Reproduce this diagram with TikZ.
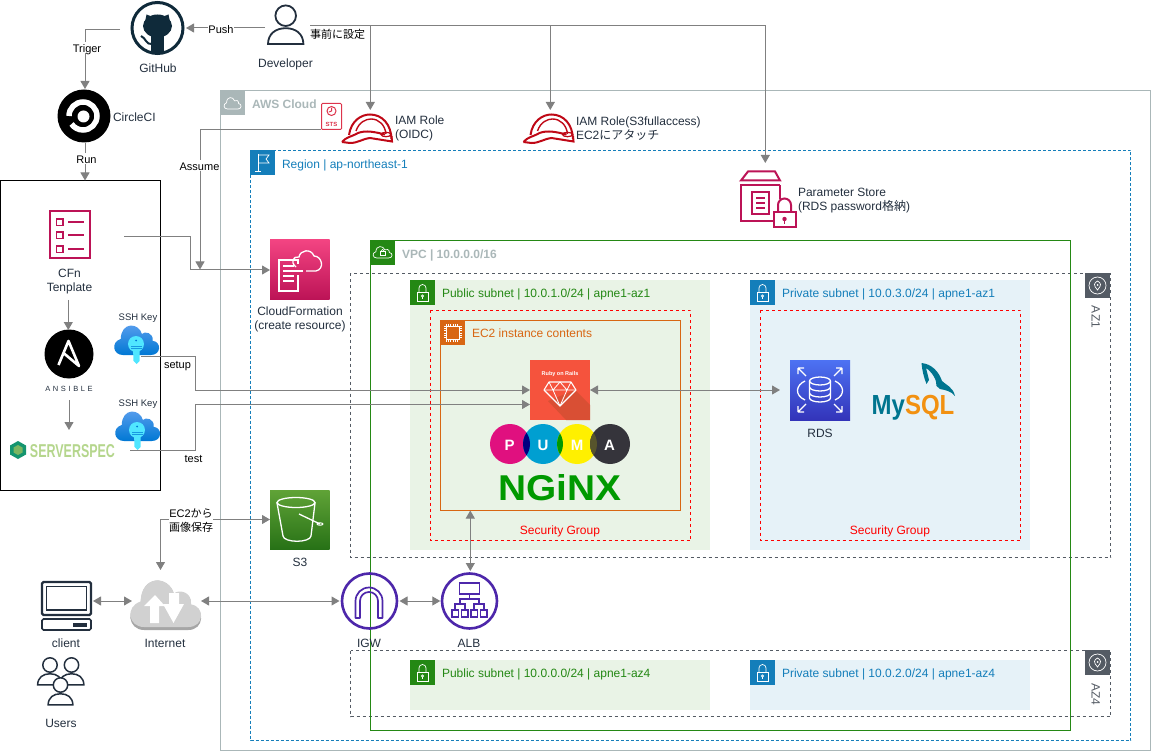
\documentclass[tikz,border=0pt]{standalone}
\usepackage{fontspec}
\usepackage{graphicx}
\setmainfont{Liberation Sans}
\newfontfamily\cjkfont{Noto Sans CJK JP}
\usetikzlibrary{arrows.meta}
\definecolor{awstext}{HTML}{232F3E}
\definecolor{cloudgray}{HTML}{AAB7B8}
\definecolor{regionblue}{HTML}{147EBA}
\definecolor{vpcgreen}{HTML}{248814}
\definecolor{azgray}{HTML}{545B64}
\definecolor{ecorange}{HTML}{D86613}
\definecolor{pubfill}{HTML}{E9F3E6}
\definecolor{privfill}{HTML}{E6F2F8}
\definecolor{stackpink}{HTML}{BC1356}
\definecolor{stacktop}{HTML}{F34482}
\definecolor{iamred}{HTML}{BF0816}
\definecolor{stsred}{HTML}{DD344C}
\definecolor{netpurple}{HTML}{4D27AA}
\definecolor{linegray}{HTML}{808080}
\definecolor{hubnavy}{HTML}{0F2A3A}
\definecolor{keytop}{HTML}{5EA0EF}
\definecolor{keybottom}{HTML}{0078D4}
\definecolor{keycyan}{HTML}{50E6FF}
\definecolor{bucktop}{HTML}{60A337}
\definecolor{buckbottom}{HTML}{277116}
\definecolor{dbtop}{HTML}{4D72F3}
\definecolor{dbbottom}{HTML}{3334B9}
\definecolor{mysqlteal}{HTML}{00758F}
\definecolor{mysqlorange}{HTML}{F29111}
\definecolor{railsred}{HTML}{F5533D}
\definecolor{railsshade}{HTML}{D94F34}
\definecolor{pumapink}{HTML}{E0107F}
\definecolor{pumablue}{HTML}{009FD1}
\definecolor{pumayellow}{HTML}{FFF000}
\definecolor{pumadark}{HTML}{35343B}
\definecolor{nginxgreen}{HTML}{009900}
\definecolor{specgreen}{HTML}{B5D68D}
\definecolor{spechex}{HTML}{14956F}
\definecolor{specinner}{HTML}{7BB661}
\newcommand{\jp}[1]{{\cjkfont #1}}
\def\cloudpath{(0.2,0) -- (0.82,0) .. controls (1.05,0) and (1.06,0.42) .. (0.86,0.46) .. controls (0.88,0.72) and (0.68,0.78) .. (0.62,0.68) .. controls (0.55,1.05) and (0.16,1.08) .. (0.15,0.52) .. controls (-0.07,0.42) and (-0.03,0) .. (0.2,0) -- cycle}
\def\lockglyph{\draw (7,-12) rectangle (18,-21);
\draw (9,-12) -- (9,-8) arc (180:0:3.5) -- (16,-12);
\draw (12.5,-16) circle (1.2);
\draw (12.5,-17.2) -- (12.5,-19);}
\newcommand{\badge}[4]{\fill [#3] (#1,#2) rectangle ++(25,-25);
\begin{scope}[shift={(#1,#2)},white,line width=0.7pt] #4 \end{scope}}
\newcommand{\helmet}[1]{\begin{scope}[shift={(#1,0)},iamred,line width=2pt]
\draw (349,-135) .. controls (351,-121) and (361,-114.5) .. (370,-114.5) .. controls (382,-114.5) and (391,-124) .. (391.5,-139);
\draw [line width=1.4pt] (356,-131) .. controls (359,-122) and (366,-119) .. (371,-119) .. controls (379,-119) and (385,-125) .. (386,-134);
\draw (342,-142) .. controls (346,-137) and (351,-137) .. (358,-133) .. controls (366,-130) and (375,-132) .. (385,-134.5);
\draw (342,-142) -- (350,-143) .. controls (358,-143) and (362,-139) .. (370,-138) -- (392,-141.5) -- (391.5,-136);
\draw [line width=1.2pt] (386,-134.5) ellipse (5 and 2.2);
\end{scope}}
\newcommand{\sshkey}[2]{\begin{scope}[shift={(#1,#2)}]
\shade [top color=keytop,bottom color=keybottom,xscale=45,yscale=31] \cloudpath;
\fill [keycyan] (22,11) circle (8);
\fill [keycyan] (19,7) -- (19.5,-6) -- (22.5,-9) -- (25.5,-6) -- (25.5,7) -- cycle;
\fill [keybottom] (22,14.5) circle (1);
\draw [keybottom!70!keycyan,line width=0.6pt] (17,8.5) -- (28,8.5) (17,6.5) -- (28,6.5);
\end{scope}}
\newcommand{\person}[4]{\begin{scope}[shift={(#1,#2)},scale=#3]
\draw [awstext,fill=white,line width=#4] (-17.7,-28.3) -- (17.7,-28.3) .. controls (17.5,-18) and (10,-12.5) .. (0,-12.5) .. controls (-10,-12.5) and (-17.5,-18) .. (-17.7,-28.3) -- cycle;
\draw [awstext,fill=white,line width=#4] (0,0) circle (10.3);
\end{scope}}
\begin{document}
\begin{tikzpicture}[x=1pt,y=1pt]
\tikzstyle{every node}+=[inner sep=0pt,outer sep=0pt,font=\fontsize{12}{14}\selectfont,text=awstext]
\tikzstyle{lbl}=[text height=9.8pt,text depth=1.2pt]
\tikzstyle{multi}=[align=center]
\tikzstyle{multileft}=[align=left,anchor=west]
\tikzstyle{edgelbl}=[lbl,fill=white,text=black,font=\fontsize{11}{13}\selectfont]
\tikzstyle{conn}=[linegray,line width=1pt,-{Triangle[length=8pt,width=9pt]}]
\tikzstyle{conntwo}=[linegray,line width=1pt,{Triangle[length=8pt,width=9pt]}-{Triangle[length=8pt,width=9pt]}]
\tikzstyle{azbox}=[azgray,line width=0.8pt,dash pattern=on 3pt off 3pt]
\tikzstyle{sgbox}=[red,line width=0.8pt,dash pattern=on 3pt off 3pt]
\tikzstyle{pumaletter}=[text=white,font=\fontsize{15}{16}\selectfont\bfseries]
\useasboundingbox (0,0) rectangle (1151,-751);
\draw [cloudgray,line width=1pt] (220.5,-90.5) rectangle (1150.5,-750.5);
\draw [regionblue,line width=1pt,dash pattern=on 3pt off 2pt] (250.5,-150.5) rectangle (1130.5,-740.5);
\fill [pubfill] (410,-280) rectangle (710,-550);
\fill [privfill] (750,-280) rectangle (1030,-550);
\fill [pubfill] (410,-660) rectangle (710,-710);
\fill [privfill] (750,-660) rectangle (1030,-710);
\draw [azbox] (350.5,-273.5) rectangle (1110.5,-557.5);
\draw [azbox] (350.5,-650.5) rectangle (1110.5,-716.5);
\draw [vpcgreen,line width=1pt] (370.5,-240.5) rectangle (1070.5,-730.5);
\draw [sgbox] (430.5,-310.5) rectangle (690.5,-540.5);
\draw [sgbox] (760.5,-310.5) rectangle (1020.5,-540.5);
\draw (560.5,-415.5) node [draw=ecorange,line width=1pt,minimum width=240pt,minimum height=190pt] (ecbox) {};
\draw (80.5,-335.5) node [draw=black,line width=1pt,minimum width=160pt,minimum height=310pt] (toolbox) {};
\badge{220}{-90}{cloudgray}{\draw [shift={(4,-19)},xscale=17,yscale=12] \cloudpath;}
\badge{250}{-150}{regionblue}{\draw (8,-4) -- (8,-21) (5,-21) -- (11,-21);
\draw (8,-5) -- (19,-5) -- (16,-9) -- (19,-13) -- (8,-13);}
\badge{370}{-240}{vpcgreen}{\draw [shift={(3,-18)},xscale=19,yscale=12] \cloudpath;
\draw (10,-11) rectangle (15,-15);
\draw (11,-11) arc (180:0:1.5);}
\badge{410}{-280}{vpcgreen}{\lockglyph}
\badge{750}{-280}{regionblue}{\lockglyph}
\badge{410}{-660}{vpcgreen}{\lockglyph}
\badge{750}{-660}{regionblue}{\lockglyph}
\badge{440}{-320}{ecorange}{\draw (6,-6) rectangle (19,-19);
\draw [line width=2pt,dash pattern=on 1pt off 1.2pt] (6,-4.5) -- (19,-4.5) (6,-20.5) -- (19,-20.5) (4.5,-6) -- (4.5,-19) (20.5,-6) -- (20.5,-19);}
\badge{1085}{-273}{azgray}{\draw (12.5,-12.5) circle (8.5);
\draw (12.5,-8) .. controls (16,-10) and (17,-12) .. (12.5,-17) .. controls (8,-12) and (9,-10) .. (12.5,-8);
\fill (12.5,-12) circle (1);}
\badge{1085}{-650}{azgray}{\draw (12.5,-12.5) circle (8.5);
\draw (12.5,-8) .. controls (16,-10) and (17,-12) .. (12.5,-17) .. controls (8,-12) and (9,-10) .. (12.5,-8);
\fill (12.5,-12) circle (1);}
\draw (252,-104) node [lbl,anchor=west,text=cloudgray,font=\fontsize{12}{14}\selectfont\bfseries] (cloudlbl) {AWS Cloud};
\draw (282,-164) node [lbl,anchor=west,text=regionblue] (regionlbl) {Region | ap-northeast-1};
\draw (402,-254) node [lbl,anchor=west,text=cloudgray,font=\fontsize{12}{14}\selectfont\bfseries] (vpclbl) {VPC | 10.0.0.0/16};
\draw (442,-293.5) node [lbl,anchor=west,text=vpcgreen] (puboneloc) {Public subnet | 10.0.1.0/24 | apne1-az1};
\draw (782,-293.5) node [lbl,anchor=west,text=regionblue] (privoneloc) {Private subnet | 10.0.3.0/24 | apne1-az1};
\draw (442,-673.5) node [lbl,anchor=west,text=vpcgreen] (pubfourloc) {Public subnet | 10.0.0.0/24 | apne1-az4};
\draw (782,-673.5) node [lbl,anchor=west,text=regionblue] (privfourloc) {Private subnet | 10.0.2.0/24 | apne1-az4};
\draw (472,-333.5) node [lbl,anchor=west,text=ecorange] (eclbl) {EC2 instance contents};
\draw (560,-530.5) node [lbl,text=red] (sgone) {Security Group};
\draw (890,-530.5) node [lbl,text=red] (sgtwo) {Security Group};
\draw (1096,-317) node [lbl,rotate=270,text=azgray] (azone) {AZ1};
\draw (1096,-694) node [lbl,rotate=270,text=azgray] (azfour) {AZ4};
\draw [hubnavy,line width=3pt] (157.5,-28) circle (25.5);
\fill [hubnavy] (157.5,-26) ellipse (14.5 and 11.5);
\fill [hubnavy] (145,-22) -- (146.5,-14.5) -- (153,-17) -- cycle;
\fill [hubnavy] (170,-22) -- (168.5,-14.5) -- (162,-17) -- cycle;
\fill [hubnavy] (151,-32) rectangle (164,-53);
\draw [hubnavy,line width=2pt] (141,-36) .. controls (146,-38) and (146,-45) .. (152,-44);
\person{285.7}{-15.7}{1}{1.8pt}
\fill [black] (84,-116) circle (26.5);
\draw [white,line width=5.5pt] (69,-116) arc (180:-145:14);
\fill [white] (83.5,-116.5) circle (6);
\draw [stackpink,line width=2pt] (49.5,-211.5) rectangle (89.5,-258.5);
\draw [stackpink,line width=1.5pt] (56.5,-219) rectangle (63,-225.5) (56.5,-232) rectangle (63,-238.5) (56.5,-246) rectangle (63,-252.5);
\draw [stackpink,line width=1.5pt] (68,-222) -- (84,-222) (68,-235) -- (84,-235) (68,-249) -- (84,-249);
\fill [black] (69,-354) circle (24.5);
\draw [white,line width=2.6pt,line join=round] (58.5,-365) -- (68.5,-341) -- (79,-366) -- (63.5,-353);
\draw (69,-387) node [lbl,text=awstext,font=\fontsize{7.5}{9}\selectfont\addfontfeature{LetterSpace=35}] (ansiblelbl) {ANSIBLE};
\fill [spechex] (18,-441) -- (26,-445.5) -- (26,-454.5) -- (18,-459) -- (10,-454.5) -- (10,-445.5) -- cycle;
\fill [specinner] (18,-445) -- (22.5,-447.5) -- (22.5,-452.5) -- (18,-455) -- (13.5,-452.5) -- (13.5,-447.5) -- cycle;
\draw (72.5,-451) node [text=specgreen] (speclbl) {\resizebox{85pt}{13pt}{\bfseries SERVERSPEC}};
\sshkey{114}{-355}
\sshkey{115}{-441}
\draw (138,-316) node [lbl,font=\fontsize{9.5}{11}\selectfont] (keyonelbl) {SSH Key};
\draw (138,-402) node [lbl,font=\fontsize{9.5}{11}\selectfont] (keytwolbl) {SSH Key};
\draw [stsred,fill=white,line width=1pt,rounded corners=1pt] (321.5,-103.5) rectangle (341.5,-129.5);
\draw [stsred,line width=1pt] (331.5,-111) circle (4.5) (331.5,-108) -- (331.5,-111) -- (329,-112);
\draw (331.5,-124) node [text=stsred,font=\fontsize{6}{7}\selectfont\bfseries] (stslbl) {STS};
\helmet{0}
\helmet{181.5}
\draw (395,-128.5) node [multileft] (iamonelbl) {IAM Role\\(OIDC)};
\draw (576,-128.5) node [multileft] (iamtwolbl) {IAM Role(S3fullaccess)\\EC2\jp{にアタッチ}};
\begin{scope}[stackpink,line width=2pt]
\draw (741,-180.5) -- (748,-171.5) -- (775,-171.5) -- (780,-180.5) -- cycle;
\draw (780,-185) -- (741,-185) -- (741,-221) -- (773,-221) (780,-185) -- (780,-199);
\draw (752,-192) rectangle (769,-214);
\draw [line width=1.4pt] (756,-198) -- (765,-198) (756,-203) -- (765,-203) (756,-208) -- (765,-208);
\draw (773.5,-212) rectangle (795.5,-227.5);
\draw (778,-212) -- (778,-205) arc (180:0:6.5) -- (791,-212);
\fill (784.5,-219) circle (2.2);
\draw [line width=1pt] (784.5,-219) -- (784.5,-224);
\end{scope}
\draw (798,-200.5) node [multileft] (paramlbl) {Parameter Store\\(RDS password\jp{格納})};
\shade [top color=stacktop,bottom color=stackpink] (270,-240) rectangle (329.5,-299.5);
\begin{scope}[white,line width=1.3pt]
\draw (298,-264) -- (298,-260) -- (279,-260) -- (279,-291) -- (298,-291) -- (298,-275);
\draw (283,-266) -- (294,-266) (283,-271) -- (303,-271) (283,-276) -- (294,-276) (283,-281) -- (294,-281);
\draw (296,-267) .. controls (290,-262) and (293,-256) .. (299,-257) .. controls (300,-250) and (311,-248) .. (314,-256) .. controls (322,-256) and (325,-269) .. (316,-271) -- (306,-271);
\end{scope}
\draw (300,-319.5) node [multi] (cfstacklbl) {CloudFormation\\(create resource)};
\shade [top color=bucktop,bottom color=buckbottom] (270,-490) rectangle (329.5,-549.5);
\begin{scope}[white,line width=1.3pt]
\draw (296,-502.5) ellipse (19 and 5);
\draw (277,-503) -- (283,-536) .. controls (284,-543) and (310,-543) .. (311,-536) -- (315,-503);
\draw (299,-514) -- (320,-524);
\draw [line width=1pt] (320,-524) ellipse (3 and 1.2);
\end{scope}
\draw (300,-562.5) node [lbl] (sthreelbl) {S3};
\shade [top color=dbtop,bottom color=dbbottom] (790,-360) rectangle (850,-420);
\begin{scope}[white,line width=1.3pt]
\draw (798,-368) -- (806,-376) (798,-368) -- (798,-374) (798,-368) -- (804,-368);
\draw (842,-368) -- (834,-376) (842,-368) -- (842,-374) (842,-368) -- (836,-368);
\draw (798,-412) -- (806,-404) (798,-412) -- (798,-406) (798,-412) -- (804,-412);
\draw (842,-412) -- (834,-404) (842,-412) -- (842,-406) (842,-412) -- (836,-412);
\draw (820,-381) ellipse (10.5 and 4);
\draw (809.5,-381) -- (809.5,-398) arc (180:360:10.5 and 4) -- (830.5,-381);
\draw (809.5,-387) arc (180:360:10.5 and 4) (809.5,-393) arc (180:360:10.5 and 4);
\draw (805,-381) .. controls (796,-385) and (794,-395) .. (805,-400);
\draw (835,-381) .. controls (844,-385) and (846,-395) .. (835,-400);
\end{scope}
\draw (820,-433.5) node [lbl] (rdslbl) {RDS};
\fill [mysqlteal] (921.5,-363) .. controls (932,-364) and (939,-372) .. (942,-381) .. controls (946,-385) and (953,-387) .. (955,-396) .. controls (951,-391) and (945,-390) .. (940,-389) -- (936.5,-386) .. controls (937,-380) and (932,-372) .. (926,-368) -- (929,-380) -- (926.5,-384) .. controls (924,-378) and (922,-370) .. (921.5,-363) -- cycle;
\draw (913,-408) node (mysqllbl) {\scalebox{1}[1.15]{\fontsize{24}{26}\selectfont\bfseries\textcolor{mysqlteal}{My}\textcolor{mysqlorange}{SQL}}};
\fill [railsred] (530,-360) rectangle (590,-420);
\fill [railsshade] (575,-390) -- (590,-405) -- (590,-420) -- (566,-420) -- (548,-401) -- cycle;
\draw (560,-374.5) node [text=white,font=\fontsize{5.5}{7}\selectfont\bfseries] (railslbl) {Ruby on Rails};
\draw [white,line width=1.1pt,line join=round] (549,-382) -- (571,-382) -- (576,-390) -- (560,-406) -- (544,-390) -- cycle;
\draw [white,line width=0.8pt] (544,-390) -- (576,-390) (549,-382) -- (553,-390) -- (560,-382) -- (567,-390) -- (571,-382) (553,-390) -- (560,-406) -- (567,-390);
\fill [pumapink] (510,-444) circle (20);
\fill [pumablue] (543,-444) circle (20);
\fill [pumayellow] (577,-444) circle (20);
\fill [pumadark] (610,-444) circle (20);
\begin{scope}
\clip (510,-444) circle (20);
\fill [blue!50!black] (543,-444) circle (20);
\end{scope}
\begin{scope}
\clip (543,-444) circle (20);
\fill [green!60!black] (577,-444) circle (20);
\end{scope}
\begin{scope}
\clip (577,-444) circle (20);
\fill [olive!50!black] (610,-444) circle (20);
\end{scope}
\draw (509.5,-445) node [pumaletter] (pumap) {P};
\draw (543,-445) node [pumaletter] (pumau) {U};
\draw (577,-445) node [pumaletter] (pumam) {M};
\draw (609.5,-445) node [pumaletter] (pumaa) {A};
\draw (560,-488) node [text=nginxgreen] (nginxlbl) {\resizebox{123pt}{26pt}{\bfseries NGiNX}};
\draw [netpurple,line width=2.6pt] (369.5,-601) circle (27.5);
\draw [netpurple,line width=1.7pt,line join=round] (355.5,-618) -- (355.5,-601) arc (180:0:13.5) -- (382.5,-618) -- (378,-618) -- (378,-601) arc (0:180:9) -- (360,-618) -- cycle;
\draw [netpurple,line width=2.6pt] (469.5,-601) circle (27.5);
\begin{scope}[netpurple,line width=1.7pt]
\draw (459.5,-583) rectangle (479.5,-594);
\draw (469.5,-594) -- (469.5,-599) (460,-604) -- (460,-599) -- (479,-599) -- (479,-604);
\draw (455,-610) -- (455,-604) -- (465,-604) -- (465,-610) (474,-610) -- (474,-604) -- (484,-604) -- (484,-610);
\draw [line width=1.4pt] (452,-610) rectangle (458.5,-617) (461.5,-610) rectangle (468,-617) (471,-610) rectangle (477.5,-617) (480.5,-610) rectangle (487,-617);
\end{scope}
\draw (369,-643.5) node [lbl] (igwlbl) {IGW};
\draw (469,-643.5) node [lbl] (alblbl) {ALB};
\fill [black!35,xshift=130pt,yshift=-630pt,xscale=71,yscale=52] \cloudpath;
\fill [black!18,xshift=130pt,yshift=-627pt,xscale=71,yscale=49] \cloudpath;
\fill [white] (155,-595) -- (165,-606) -- (159,-606) -- (159,-623) -- (150,-623) -- (150,-606) -- (144,-606) -- cycle;
\fill [white] (169,-593) -- (179,-593) -- (179,-604) -- (184,-604) -- (173.5,-623) -- (163,-604) -- (169,-604) -- cycle;
\draw (165,-643.5) node [lbl] (internetlbl) {Internet};
\draw [awstext,line width=2.2pt,rounded corners=1.5pt] (42,-582) rectangle (91,-615);
\draw [awstext,line width=1.4pt] (46.5,-586.5) rectangle (86.5,-610);
\draw [awstext,line width=1.6pt,rounded corners=1.5pt] (42,-619) rectangle (91,-630);
\fill [awstext] (73,-623) rectangle (87,-626.5);
\draw (66,-643.5) node [lbl] (clientlbl) {client};
\person{50}{-665}{0.7}{1.5pt}
\person{71.5}{-665}{0.7}{1.5pt}
\person{60.5}{-685}{0.7}{1.5pt}
\draw (61,-723.5) node [lbl] (userslbl) {Users};
\draw (158,-68) node [lbl] (githublbl) {GitHub};
\draw (285.5,-63.5) node [lbl] (devlbl) {Developer};
\draw (113,-117) node [lbl,anchor=west] (circlelbl) {CircleCI};
\draw (69.5,-281.5) node [multi] (cfnlbl) {CFn\\Tenplate};
\draw (157.5,-28) node [minimum width=57pt,minimum height=57pt] (github) {};
\draw (285,-28) node [minimum width=40pt,minimum height=40pt] (developer) {};
\draw (85,-116) node [minimum width=54pt,minimum height=54pt] (circleci) {};
\draw (370.3,-129) node [minimum width=52pt,minimum height=38pt] (iamone) {};
\draw (550.3,-129) node [minimum width=52pt,minimum height=38pt] (iamtwo) {};
\draw (765.3,-197) node [minimum width=56pt,minimum height=68pt] (paramstore) {};
\draw (68.3,-354) node [minimum width=49pt,minimum height=48pt] (ansible) {};
\draw (69,-447) node [minimum width=105pt,minimum height=34pt] (serverspec) {};
\draw (300,-270) node [minimum width=60pt,minimum height=60pt] (cfstack) {};
\draw (560,-390) node [minimum width=60pt,minimum height=60pt] (rails) {};
\draw (820,-390) node [minimum width=80pt,minimum height=60pt] (rds) {};
\draw (300,-519.5) node [minimum width=60pt,minimum height=60pt] (sthree) {};
\draw (166.5,-601) node [minimum width=69pt,minimum height=52pt] (internet) {};
\draw (66,-601) node [minimum width=54pt,minimum height=50pt] (client) {};
\draw (369.5,-601) node [minimum width=60pt,minimum height=60pt] (igw) {};
\draw (470.3,-601) node [minimum width=60pt,minimum height=60pt] (alb) {};
\coordinate (hubout) at (120,-30);
\coordinate (devout) at (310,-25.5);
\coordinate (stsout) at (321,-130);
\coordinate (assumeend) at (200,-269.5);
\coordinate (cfnout) at (124,-236.5);
\coordinate (cfndown) at (68.3,-300);
\coordinate (ansibledown) at (69,-400);
\coordinate (keyoneout) at (141,-356);
\coordinate (keytwoout) at (130,-450.5);
\coordinate (railsin) at (530,-404.5);
\coordinate (nettop) at (160.5,-570);
\draw [conn] (developer.west) -- (github.east);
\draw [conn] (hubout) -| (circleci.north);
\draw [conn] (circleci.south) -- (circleci.south |- toolbox.north);
\draw [conn] (devout) -| (iamone.north);
\draw [conn] (devout) -| (iamtwo.north);
\draw [conn] (devout) -| (paramstore.north);
\draw [conn] (stsout) -| (assumeend);
\draw [conn] (cfnout) -- (190,-236.5) -- (190,-270) -- (cfstack.west);
\draw [conn] (cfndown) -- (ansible.north);
\draw [conn] (ansibledown) -- (serverspec.north);
\draw [conn] (keyoneout) -- (195,-356) -- (195,-390) -- (rails.west);
\draw [conn] (keytwoout) -- (195,-450.5) -- (195,-404.5) -- (railsin);
\draw [conntwo] (rails.east) -- (rds.west);
\draw [conntwo] (alb.north) -- (alb.north |- ecbox.south);
\draw [conntwo] (igw.east) -- (alb.west);
\draw [conntwo] (internet.east) -- (igw.west);
\draw [conntwo] (client.east) -- (internet.west);
\draw [conntwo] (sthree.west) -| (nettop);
\draw (87,-48) node [edgelbl] (trigerlbl) {Triger};
\draw (221,-29) node [edgelbl] (pushlbl) {Push};
\draw (86.5,-159) node [edgelbl] (runlbl) {Run};
\draw (199.5,-166) node [edgelbl] (assumelbl) {Assume};
\draw (177.5,-364.5) node [edgelbl,fill=none] (setuplbl) {setup};
\draw (193.5,-458) node [edgelbl,fill=none] (testlbl) {test};
\draw (337.5,-34) node [edgelbl,fill=none] (presetlbl) {\jp{事前に設定}};
\draw (191,-520.5) node [multi,fill=white,text=black,font=\fontsize{11}{14}\selectfont] (imagelbl) {EC2\jp{から}\\\jp{画像保存}};
\end{tikzpicture}
\end{document}
